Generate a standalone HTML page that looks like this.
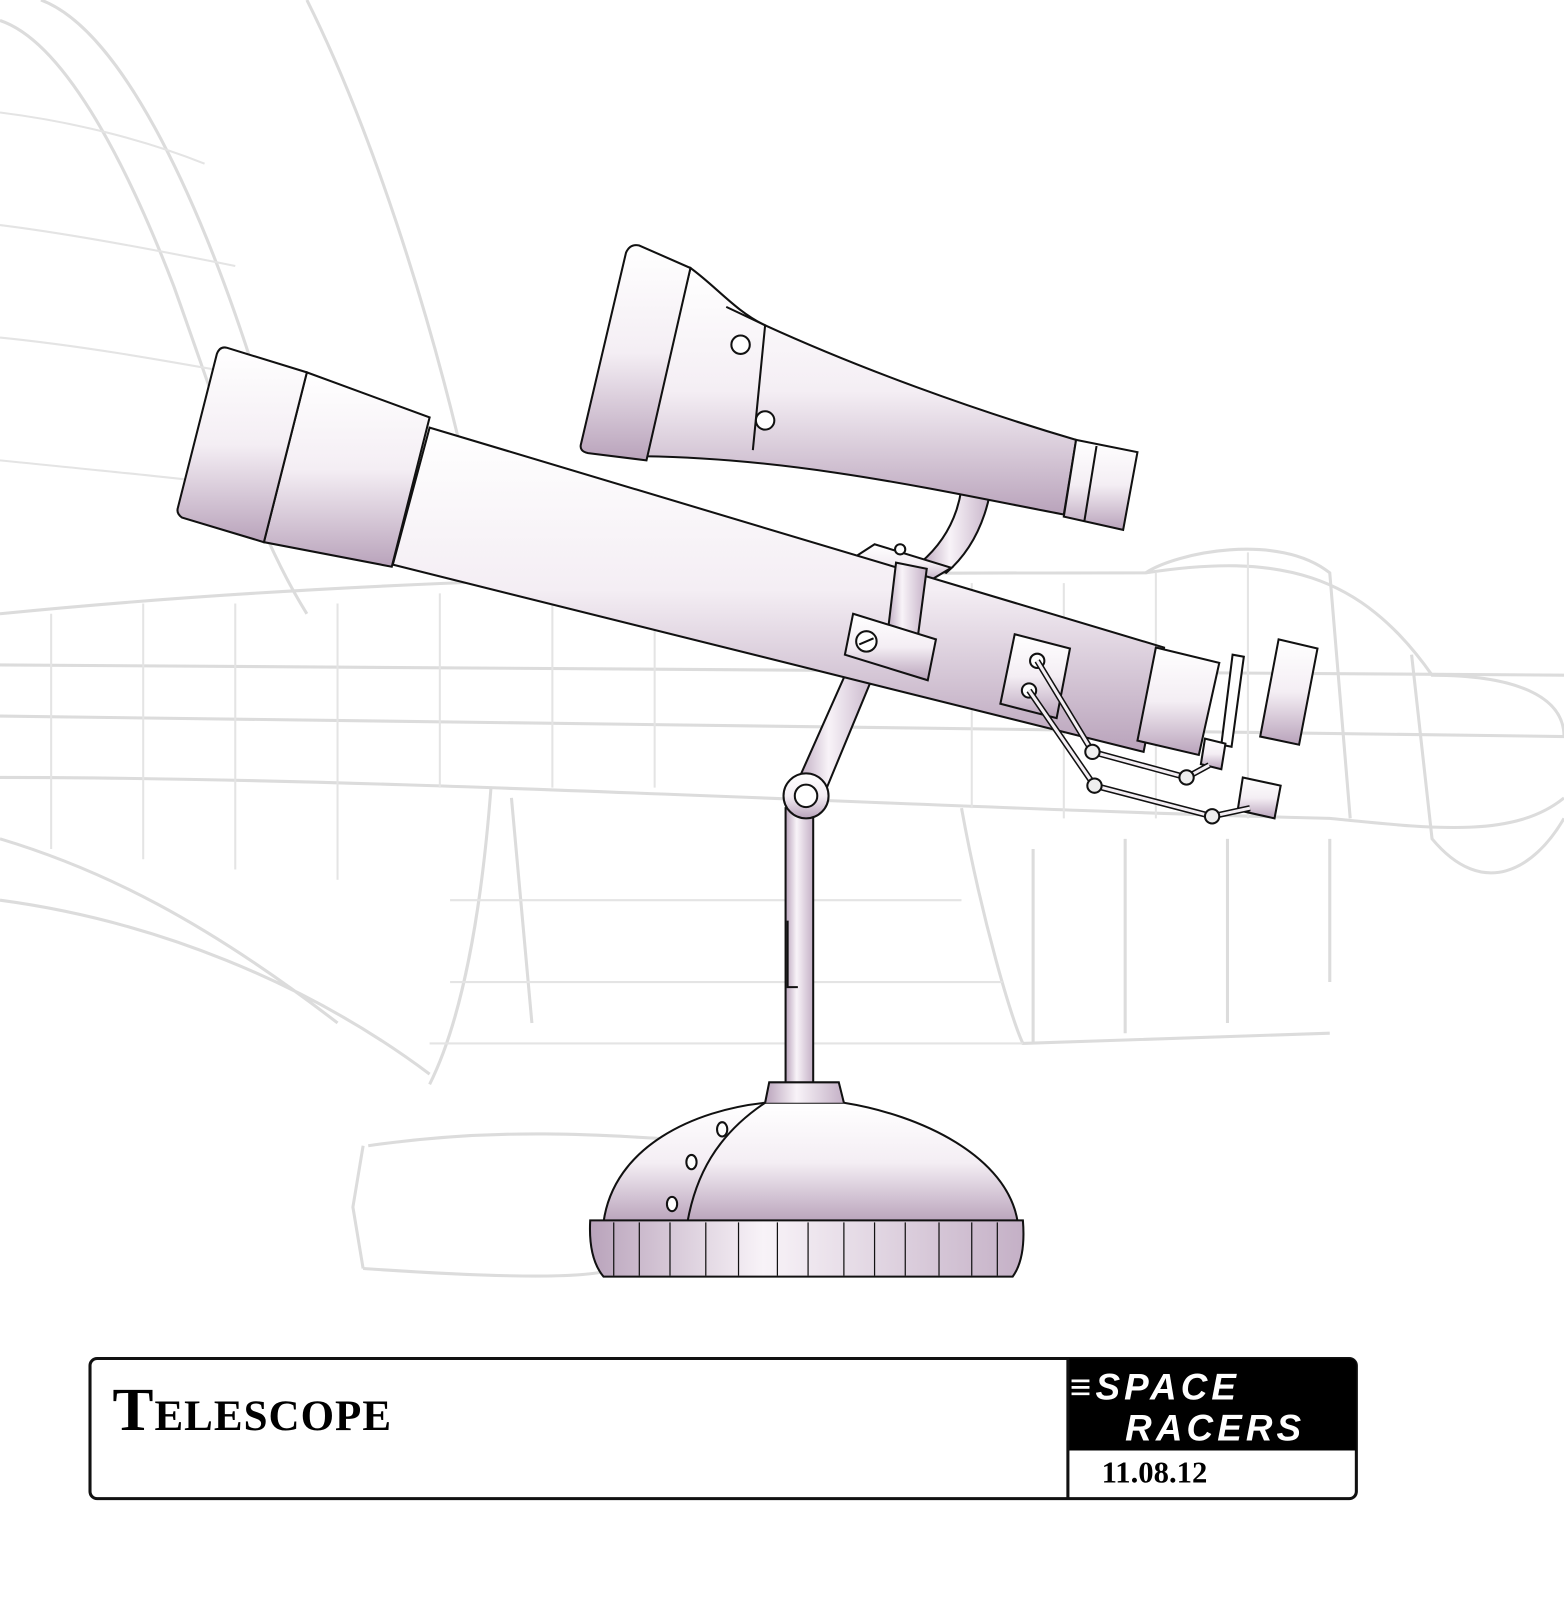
<!DOCTYPE html>
<html><head><meta charset="utf-8"><style>
html,body{margin:0;padding:0;background:#fff;}
svg{display:block;}
</style></head><body>
<svg width="1564" height="1604" viewBox="0 0 1529 1568" preserveAspectRatio="none" xmlns="http://www.w3.org/2000/svg">
<defs>
<linearGradient id="g" x1="0" y1="0" x2="0" y2="1">
<stop offset="0" stop-color="#ffffff"/><stop offset="0.5" stop-color="#f4eef4"/><stop offset="1" stop-color="#b9a3bb"/>
</linearGradient>
<linearGradient id="gh" x1="0" y1="0" x2="1" y2="0">
<stop offset="0" stop-color="#b9a3bb"/><stop offset="0.4" stop-color="#f8f3f8"/><stop offset="1" stop-color="#c4b0c6"/>
</linearGradient>
</defs>
<g fill="none" stroke="#dcdcdc" stroke-width="3">
<path d="M0 20 C60 40 120 150 170 280 C220 420 250 520 300 600"/>
<path d="M40 0 C120 30 200 200 260 400"/>
<path d="M300 0 C360 120 420 300 460 480"/>
<path d="M0 600 C400 560 800 560 1120 560 C1250 540 1330 560 1400 660 C1480 660 1529 680 1529 720"/>
<path d="M0 760 C400 760 900 790 1300 800 C1400 810 1480 820 1529 780"/>
<path d="M0 700 L1529 720"/><path d="M0 650 L1529 660"/>
<path d="M480 770 C470 900 450 1000 420 1060"/><path d="M500 780 L520 1000"/>
<path d="M940 790 C960 900 990 1000 1000 1020 L1300 1010"/>
<path d="M360 1120 C500 1100 600 1110 750 1120 M355 1240 C500 1250 580 1250 600 1240 M355 1120 L345 1180 L355 1240"/>
<path d="M1010 830 L1010 1020 M1100 820 L1100 1010 M1200 820 L1200 1000 M1300 820 L1300 960"/>
<path d="M1120 560 C1150 540 1250 520 1300 560 L1320 800 M1380 640 L1400 820 C1450 880 1500 850 1529 800"/>
<path d="M0 820 C100 850 200 900 330 1000 M0 880 C150 900 300 960 420 1050"/>
</g>
<g fill="none" stroke="#e4e4e4" stroke-width="2">
<path d="M50 600 L50 830 M140 590 L140 840 M230 590 L230 850 M330 590 L330 860 M430 580 L430 770 M540 580 L540 770 M640 580 L640 770 M950 570 L950 790 M1040 570 L1040 800 M1130 560 L1130 800 M1220 540 L1220 800"/>
<path d="M0 110 C80 120 150 140 200 160 M0 220 C80 230 180 250 230 260 M0 330 C100 340 200 360 260 370 M0 450 C100 460 200 470 280 480"/>
<path d="M440 880 L940 880 M440 960 L980 960 M420 1020 L1000 1020"/>
</g>
<rect x="768" y="790" width="27" height="275" fill="url(#gh)" stroke="#111" stroke-width="2"/>
<path d="M770 900 L770 965 L780 965" fill="none" stroke="#111" stroke-width="2"/>
<path d="M590 1195 C600 1120 680 1085 748 1078 L825 1078 C900 1090 985 1130 995 1195 Z" fill="url(#g)" stroke="#111" stroke-width="2"/>
<path d="M748 1078 C700 1110 680 1150 672 1195" fill="none" stroke="#111" stroke-width="2"/>
<path d="M748 1078 L752 1058 L820 1058 L825 1078" fill="url(#gh)" stroke="#111" stroke-width="2"/>
<g fill="#fff" stroke="#111" stroke-width="2"><ellipse cx="706" cy="1104" rx="5" ry="7"/><ellipse cx="676" cy="1136" rx="5" ry="7"/><ellipse cx="657" cy="1177" rx="5" ry="7"/></g>
<path d="M577 1193 L1000 1193 Q1003 1230 990 1248 L590 1248 Q575 1230 577 1193Z" fill="url(#gh)" stroke="#111" stroke-width="2"/>
<g stroke="#111" stroke-width="1.2"><path d="M600 1195V1247M625 1195V1247M655 1195V1247M690 1195V1247M722 1195V1247M760 1195V1247M790 1195V1247M825 1195V1247M855 1195V1247M885 1195V1247M918 1195V1247M950 1195V1247M975 1195V1247"/></g>
<path d="M778 768 L835 640 L858 650 L805 778 Z" fill="url(#gh)" stroke="#111" stroke-width="2"/>
<circle cx="788" cy="778" r="22" fill="url(#g)" stroke="#111" stroke-width="2"/>
<circle cx="788" cy="778" r="11" fill="#fff" stroke="#111" stroke-width="2"/>
<path d="M940 440 L970 430 C975 480 960 530 925 560 L900 550 C935 520 945 480 940 440Z" fill="url(#gh)" stroke="#111" stroke-width="2"/>
<path d="M945 435 L980 430 L975 465 L945 465Z" fill="url(#g)" stroke="#111" stroke-width="2"/>
<circle cx="962" cy="447" r="8" fill="#fff" stroke="#111" stroke-width="2"/>
<path d="M835 545 L855 532 L930 555 L905 570Z" fill="url(#g)" stroke="#111" stroke-width="2"/>
<circle cx="880" cy="537" r="5" fill="#fff" stroke="#111" stroke-width="2"/>
<path d="M420 418 L1138 633 L1118 735 L384 552 Z" fill="url(#g)" stroke="#111" stroke-width="2"/>
<path d="M300 364 L420 408 L383 554 L258 530 Z" fill="url(#g)" stroke="#111" stroke-width="2"/>
<path d="M222 340 L300 364 L258 530 L178 506 Q172 502 174 496 L212 346 Q215 338 222 340Z" fill="url(#g)" stroke="#111" stroke-width="2"/>
<path d="M876 550 L906 556 L895 640 L866 634Z" fill="url(#gh)" stroke="#111" stroke-width="2"/>
<path d="M834 600 L915 625 L907 665 L826 640Z" fill="url(#g)" stroke="#111" stroke-width="2"/>
<circle cx="847" cy="627" r="10" fill="#fff" stroke="#111" stroke-width="2"/>
<path d="M840 630 L854 624" stroke="#111" stroke-width="2"/>
<path d="M992 620 L1046 634 L1033 702 L978 688Z" fill="url(#g)" stroke="#111" stroke-width="2"/>
<circle cx="1014" cy="646" r="7" fill="#fff" stroke="#111" stroke-width="2"/>
<circle cx="1006" cy="675" r="7" fill="#fff" stroke="#111" stroke-width="2"/>
<path d="M1130 633 L1192 648 L1172 738 L1112 724Z" fill="url(#g)" stroke="#111" stroke-width="2"/>
<path d="M1205 640 L1216 642 L1204 730 L1194 728Z" fill="#fff" stroke="#111" stroke-width="2"/>
<path d="M1250 625 L1288 634 L1270 728 L1232 720Z" fill="url(#g)" stroke="#111" stroke-width="2"/>
<path d="M1178 722 L1198 727 L1194 752 L1174 747Z" fill="url(#g)" stroke="#111" stroke-width="2"/>
<path d="M1215 760 L1252 768 L1246 800 L1210 792Z" fill="url(#g)" stroke="#111" stroke-width="2"/>
<g fill="none" stroke="#111" stroke-width="6"><path d="M1014 646 L1068 735 L1160 760 L1182 748"/><path d="M1006 675 L1070 768 L1185 798 L1222 790"/></g>
<g fill="none" stroke="#f3eef3" stroke-width="3"><path d="M1014 646 L1068 735 L1160 760 L1182 748"/><path d="M1006 675 L1070 768 L1185 798 L1222 790"/></g>
<g fill="#eee" stroke="#111" stroke-width="2"><circle cx="1068" cy="735" r="7"/><circle cx="1160" cy="760" r="7"/><circle cx="1070" cy="768" r="7"/><circle cx="1185" cy="798" r="7"/></g>
<path d="M675 262 C700 280 720 305 748 318 C840 360 950 400 1052 430 L1040 503 C920 480 780 448 630 446 Z" fill="url(#g)" stroke="#111" stroke-width="2"/>
<path d="M710 300 L748 318 L736 440" fill="none" stroke="#111" stroke-width="2"/>
<circle cx="724" cy="337" r="9" fill="#fff" stroke="#111" stroke-width="2"/>
<circle cx="748" cy="411" r="9" fill="#fff" stroke="#111" stroke-width="2"/>
<path d="M625 240 L675 262 L632 450 L575 443 Q566 441 568 434 L612 247 Q616 238 625 240Z" fill="url(#g)" stroke="#111" stroke-width="2"/>
<path d="M1052 430 L1112 442 L1098 518 L1040 505Z" fill="url(#g)" stroke="#111" stroke-width="2"/>
<path d="M1072 436 L1060 510" stroke="#111" stroke-width="2"/>
<rect x="88" y="1328" width="1238" height="137" rx="7" fill="#fff" stroke="#111" stroke-width="3"/>
<path d="M1044 1328 L1319 1328 Q1326 1328 1326 1335 L1326 1418 L1044 1418Z" fill="#000"/>
<line x1="1044" y1="1328" x2="1044" y2="1465" stroke="#111" stroke-width="3"/>
<text x="110" y="1398" font-family="Liberation Serif, serif" font-weight="bold" font-size="60" letter-spacing="1" style="font-variant:small-caps">Telescope</text>
<text x="1046" y="1368" font-family="Liberation Sans, sans-serif" font-weight="bold" font-style="italic" font-size="36" fill="#fff" letter-spacing="4">≡SPACE</text>
<text x="1100" y="1408" font-family="Liberation Sans, sans-serif" font-weight="bold" font-style="italic" font-size="36" fill="#fff" letter-spacing="4">RACERS</text>
<text x="1077" y="1449" font-family="Liberation Serif, serif" font-weight="bold" font-size="30">11.08.12</text>
</svg>
</body></html>
